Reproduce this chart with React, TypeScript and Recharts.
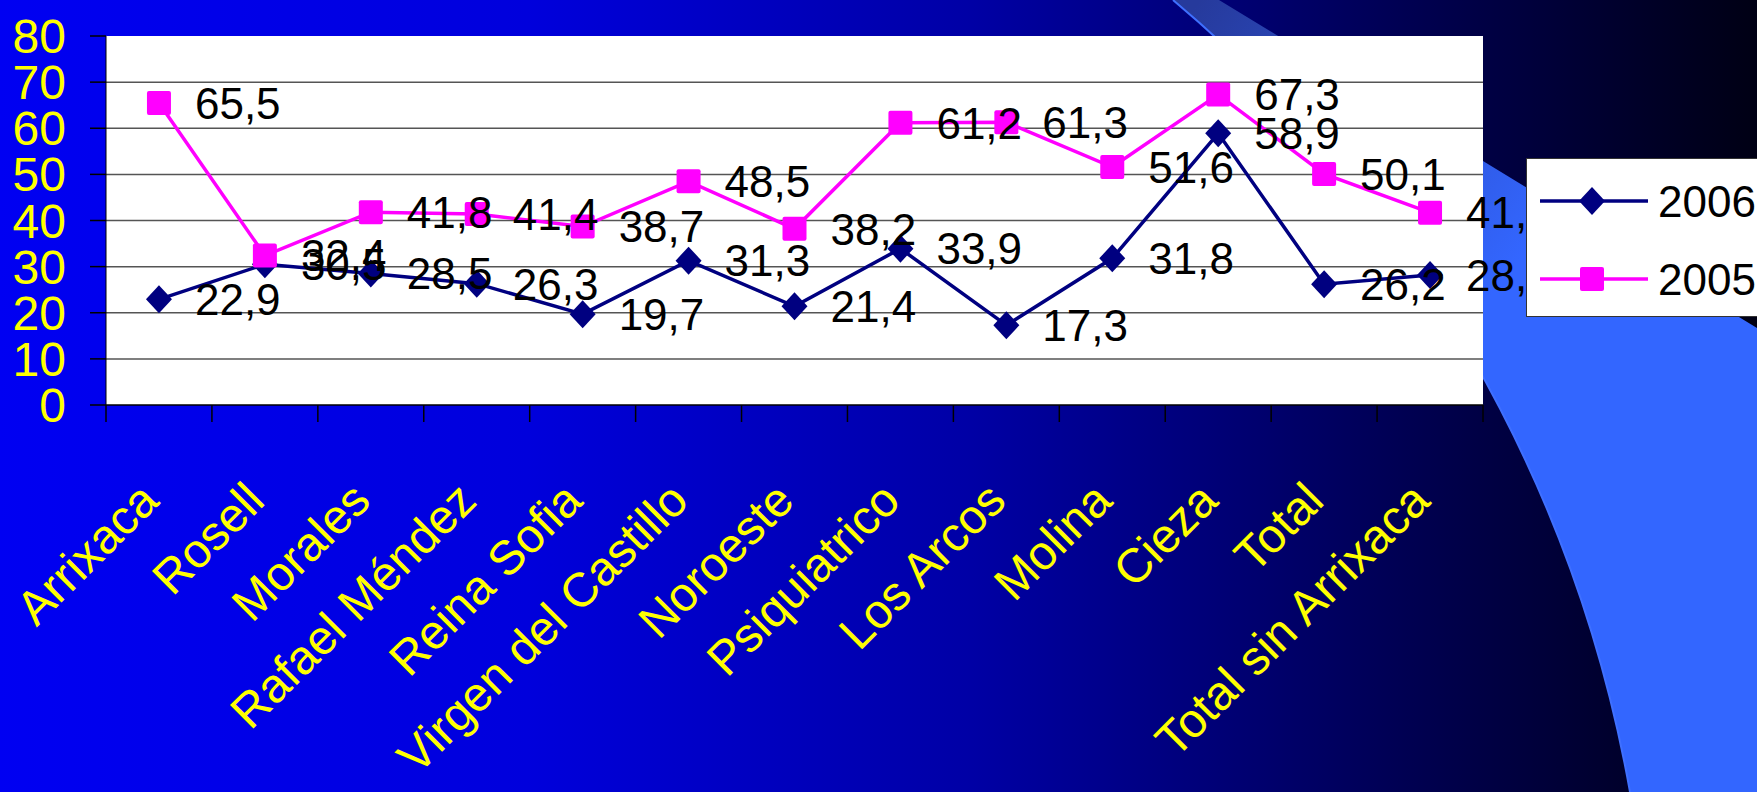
import React from 'react';
import { LineChart, Line, XAxis, YAxis, CartesianGrid, Legend, LabelList } from 'recharts';

const FONT = '"Liberation Sans", Arial, sans-serif';

const categories = [
  'Arrixaca', 'Rosell', 'Morales', 'Rafael Méndez', 'Reina Sofia', 'Virgen del Castillo',
  'Noroeste', 'Psiquiatrico', 'Los Arcos', 'Molina', 'Cieza', 'Total', 'Total sin Arrixaca',
];
const values2006 = [22.9, 30.5, 28.5, 26.3, 19.7, 31.3, 21.4, 33.9, 17.3, 31.8, 58.9, 26.2, 28.2];
const values2005 = [65.5, 32.4, 41.8, 41.4, 38.7, 48.5, 38.2, 61.2, 61.3, 51.6, 67.3, 50.1, 41.7];
const yTicks = [0, 10, 20, 30, 40, 50, 60, 70, 80];
const gridValues = [10, 20, 30, 40, 50, 60, 70];

const data = categories.map((name, i) => ({ name, y2006: values2006[i], y2005: values2005[i] }));

const NAVY = '#000080';
const MAGENTA = '#FF00FF';

const W = 1757;
const H = 792;
const MARGIN = { top: 36, right: 274, bottom: 7, left: 10 };
const Y_AXIS_W = 96;
const PLOT_W = W - MARGIN.left - MARGIN.right - Y_AXIS_W;
const HALF_BAND = PLOT_W / categories.length / 2; // points sit mid-band like Excel

const Diamond = ({ cx, cy }: any) => {
  if (cx == null || cy == null) return null;
  return <polygon points={`${cx},${cy - 14} ${cx + 13},${cy} ${cx},${cy + 14} ${cx - 13},${cy}`} fill={NAVY} />;
};

const Square = ({ cx, cy }: any) => {
  if (cx == null || cy == null) return null;
  return <rect x={cx - 12} y={cy - 12} width={24} height={24} rx={2} fill={MAGENTA} />;
};

// value labels sit to the right of each point, like Excel's "right" position
const ValueLabel = (props: any) => {
  const { x, y, value } = props;
  if (x == null || y == null) return null;
  return (
    <text x={x + 36} y={y} dy="0.36em" fontSize={44} fontFamily={FONT} fill="#000">
      {Number(value).toFixed(1).replace('.', ',')}
    </text>
  );
};

// tick marks between categories + rotated yellow label
const CategoryTick = (props: any) => {
  const { x, y, payload, index, visibleTicksCount } = props;
  const ax = x + 2;
  const ay = y + 98;
  return (
    <g>
      <line x1={x - HALF_BAND} y1={y} x2={x - HALF_BAND} y2={y + 17} stroke="#000" strokeWidth={1.5} />
      {index === visibleTicksCount - 1 && (
        <line x1={x + HALF_BAND} y1={y} x2={x + HALF_BAND} y2={y + 17} stroke="#000" strokeWidth={1.5} />
      )}
      <text
        x={ax}
        y={ay}
        transform={`rotate(-45, ${ax}, ${ay})`}
        textAnchor="end"
        fontSize={48}
        fontFamily={FONT}
        fill="#FFFF00"
      >
        {payload.value}
      </text>
    </g>
  );
};

const LegendBox = () => {
  const rows = [
    { name: '2006', color: NAVY, marker: 'diamond' },
    { name: '2005', color: MAGENTA, marker: 'square' },
  ];
  return (
    <div style={{ width: 260, height: 159, background: '#fff', border: '1px solid #333', boxSizing: 'border-box' }}>
      <svg width={260} height={157}>
        {rows.map((r, i) => {
          const cy = 42 + i * 78;
          return (
            <g key={r.name}>
              <line x1={13} y1={cy} x2={121} y2={cy} stroke={r.color} strokeWidth={3.5} />
              {r.marker === 'diamond' ? (
                <Diamond cx={65} cy={cy} />
              ) : (
                <Square cx={65} cy={cy} />
              )}
              <text x={131} y={cy} dy="0.36em" fontSize={44} fontFamily={FONT} fill="#000">
                {r.name}
              </text>
            </g>
          );
        })}
      </svg>
    </div>
  );
};

const Backdrop = () => (
  <svg width={W} height={H} style={{ position: 'absolute', left: 0, top: 0 }}>
    <defs>
      <linearGradient id="bgGrad" x1="0" y1="0" x2="1" y2="0">
        <stop offset="0" stopColor="#0000F2" />
        <stop offset="0.3" stopColor="#0000DC" />
        <stop offset="0.55" stopColor="#0000A6" />
        <stop offset="0.8" stopColor="#000052" />
        <stop offset="1" stopColor="#000014" />
      </linearGradient>
      <linearGradient id="arcGrad" gradientUnits="userSpaceOnUse" x1="1200" y1="0" x2="1520" y2="260">
        <stop offset="0" stopColor="#263a9c" />
        <stop offset="1" stopColor="#3366FF" />
      </linearGradient>
    </defs>
    <rect x={0} y={0} width={W} height={H} fill="url(#bgGrad)" />
    <path d="M 1173 0 L 1219 0 L 1757 328 L 1757 792 L 1630 792 A 1341 1341 0 0 0 1173 0 Z" fill="url(#arcGrad)" />
    <path d="M 1630 792 A 1341 1341 0 0 0 1173 0" fill="none" stroke="#3f70ff" strokeWidth={2} />
  </svg>
);

const App: React.FC = () => {
  return (
    <div style={{ position: 'fixed', left: 0, top: 0, width: W, height: H, overflow: 'hidden' }}>
      <Backdrop />
      <div style={{ position: 'absolute', left: 0, top: 0 }}>
        <LineChart width={W} height={H} data={data} margin={MARGIN}>
          <CartesianGrid vertical={false} horizontalValues={gridValues} fill="#fff" stroke="#555" strokeWidth={1.5} />
          <XAxis
            dataKey="name"
            height={380}
            interval={0}
            padding={{ left: HALF_BAND, right: HALF_BAND }}
            tickSize={0}
            tickMargin={0}
            tickLine={false}
            axisLine={{ stroke: '#000', strokeWidth: 1.5 }}
            tick={<CategoryTick />}
          />
          <YAxis
            width={Y_AXIS_W}
            domain={[0, 80]}
            ticks={yTicks}
            interval={0}
            tickSize={16}
            tickMargin={24}
            axisLine={{ stroke: '#000', strokeWidth: 1 }}
            tickLine={{ stroke: '#000', strokeWidth: 1.5 }}
            tick={{ fill: '#FFFF00', fontSize: 48, fontFamily: FONT }}
          />
          <Legend
            layout="vertical"
            align="center"
            verticalAlign="middle"
            wrapperStyle={{ left: 1526, top: 158, width: 260 }}
            content={<LegendBox />}
          />
          <Line dataKey="y2006" name="2006" stroke={NAVY} strokeWidth={3.5} dot={<Diamond />} activeDot={false} isAnimationActive={false} />
          <Line dataKey="y2005" name="2005" stroke={MAGENTA} strokeWidth={3.5} dot={<Square />} activeDot={false} isAnimationActive={false} />
          {/* label-only series so value labels sit above both lines */}
          <Line dataKey="y2006" stroke="none" dot={false} activeDot={false} legendType="none" isAnimationActive={false}>
            <LabelList dataKey="y2006" content={<ValueLabel />} />
          </Line>
          <Line dataKey="y2005" stroke="none" dot={false} activeDot={false} legendType="none" isAnimationActive={false}>
            <LabelList dataKey="y2005" content={<ValueLabel />} />
          </Line>
        </LineChart>
      </div>
    </div>
  );
};

export default App;
